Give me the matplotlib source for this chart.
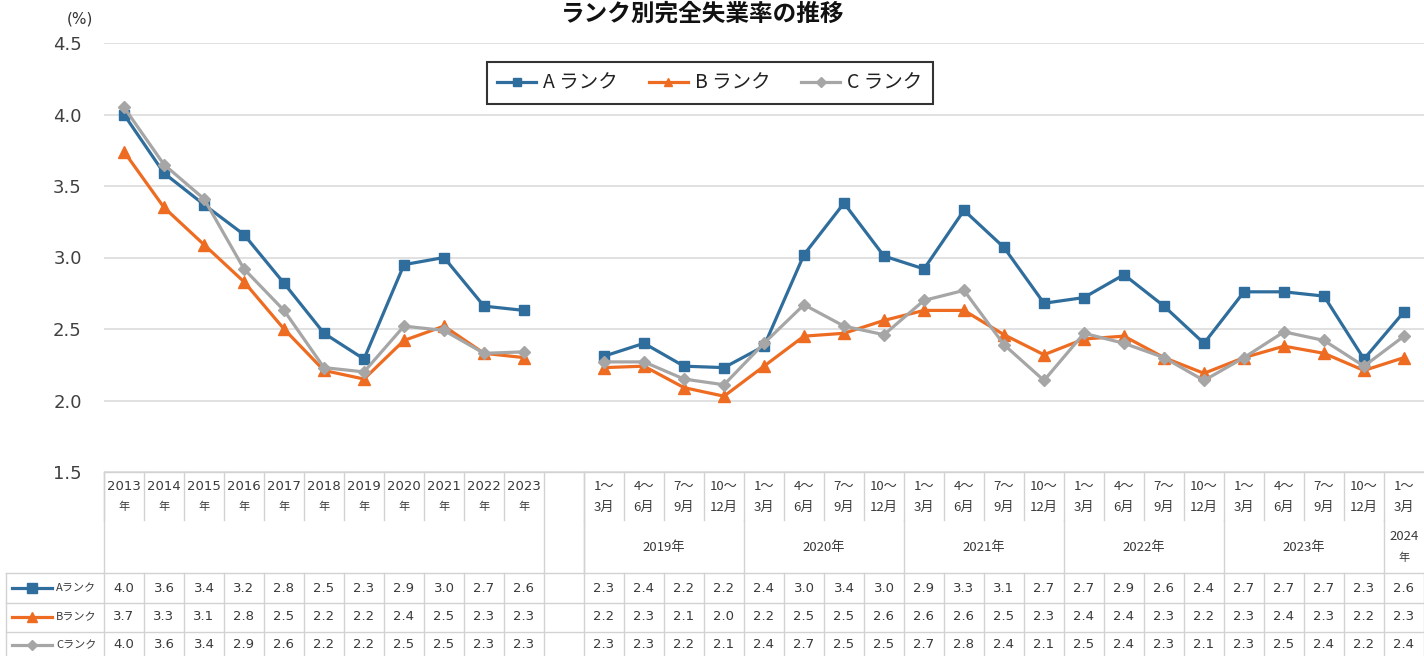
import matplotlib
matplotlib.use("Agg")
import matplotlib.pyplot as plt
import numpy as np

plt.rcParams["font.family"] = ["Noto Sans CJK JP", "DejaVu Sans"]

# --- data -------------------------------------------------------------
years = ["2013", "2014", "2015", "2016", "2017", "2018", "2019", "2020", "2021", "2022", "2023"]
quarters = ["1～\n3月", "4～\n6月", "7～\n9月", "10～\n12月"]
quarter_years = ["2019年", "2020年", "2021年", "2022年", "2023年"]
last_quarter_year = "2024\n年"
series_names = ["A ランク", "B ランク", "C ランク"]
table_names = ["Aランク", "Bランク", "Cランク"]

# plotted values (annual, then quarterly 2019Q1..2024Q1)
a_annual = [4.00, 3.59, 3.37, 3.16, 2.82, 2.47, 2.29, 2.95, 3.00, 2.66, 2.63]
b_annual = [3.74, 3.35, 3.09, 2.83, 2.50, 2.21, 2.15, 2.42, 2.52, 2.33, 2.30]
c_annual = [4.05, 3.65, 3.41, 2.92, 2.63, 2.23, 2.20, 2.52, 2.49, 2.33, 2.34]
a_quarter = [2.31, 2.40, 2.24, 2.23, 2.38, 3.02, 3.38, 3.01, 2.92, 3.33, 3.07,
             2.68, 2.72, 2.88, 2.66, 2.40, 2.76, 2.76, 2.73, 2.29, 2.62]
b_quarter = [2.23, 2.24, 2.09, 2.03, 2.24, 2.45, 2.47, 2.56, 2.63, 2.63, 2.46,
             2.32, 2.43, 2.45, 2.30, 2.19, 2.30, 2.38, 2.33, 2.21, 2.30]
c_quarter = [2.27, 2.27, 2.15, 2.11, 2.40, 2.67, 2.52, 2.46, 2.70, 2.77, 2.39,
             2.14, 2.47, 2.40, 2.30, 2.14, 2.30, 2.48, 2.42, 2.24, 2.45]

# values printed in the data table
a_table = ["4.0", "3.6", "3.4", "3.2", "2.8", "2.5", "2.3", "2.9", "3.0", "2.7", "2.6",
           "2.3", "2.4", "2.2", "2.2", "2.4", "3.0", "3.4", "3.0", "2.9", "3.3", "3.1",
           "2.7", "2.7", "2.9", "2.6", "2.4", "2.7", "2.7", "2.7", "2.3", "2.6"]
b_table = ["3.7", "3.3", "3.1", "2.8", "2.5", "2.2", "2.2", "2.4", "2.5", "2.3", "2.3",
           "2.2", "2.3", "2.1", "2.0", "2.2", "2.5", "2.5", "2.6", "2.6", "2.6", "2.5",
           "2.3", "2.4", "2.4", "2.3", "2.2", "2.3", "2.4", "2.3", "2.2", "2.3"]
c_table = ["4.0", "3.6", "3.4", "2.9", "2.6", "2.2", "2.2", "2.5", "2.5", "2.3", "2.3",
           "2.3", "2.3", "2.2", "2.1", "2.4", "2.7", "2.5", "2.5", "2.7", "2.8", "2.4",
           "2.1", "2.5", "2.4", "2.3", "2.1", "2.3", "2.5", "2.4", "2.2", "2.4"]

colors = ["#2f6e9c", "#ee6c22", "#a6a6a6"]
markers = ["s", "^", "D"]
msizes = [7.5, 8, 6]
grid_color = "#dcdcdc"
line_color = "#d2d2d2"
text_color = "#3a3a3a"

n_annual = len(years)
n_quarter = len(a_quarter)
x_annual = np.arange(n_annual)
x_quarter = np.arange(n_quarter) + n_annual + 1   # one empty column between blocks
n_cols = n_annual + 1 + n_quarter

W, H = 1424, 656
fig = plt.figure(figsize=(W / 100, H / 100), dpi=100)
fig.patch.set_facecolor("white")

# --- chart ------------------------------------------------------------
ax = fig.add_axes([104 / W, 1 - 472 / H, 1320 / W, 429 / H])
ax.set_xlim(-0.5, n_cols - 0.5)
ax.set_ylim(1.5, 4.5)

annual = [a_annual, b_annual, c_annual]
quarterly = [a_quarter, b_quarter, c_quarter]
handles = []
for i in range(3):
    kw = dict(color=colors[i], marker=markers[i], markersize=msizes[i],
              linewidth=2.3, zorder=3 + i, clip_on=False)
    h, = ax.plot(x_annual, annual[i], label=series_names[i], **kw)
    ax.plot(x_quarter, quarterly[i], **kw)
    handles.append(h)

ticks = np.arange(1.5, 4.51, 0.5)
ax.set_yticks(ticks)
ax.set_yticklabels([f"{v:.1f}" for v in ticks],
                   fontsize=13, color="#404040", family="DejaVu Sans")
ax.tick_params(axis="y", length=0, pad=16)
ax.set_xticks([])
ax.yaxis.grid(True, color=grid_color, linewidth=1.2, zorder=0)
ax.set_axisbelow(True)
for s in ax.spines.values():
    s.set_visible(False)

leg = ax.legend(handles=handles, loc="center", bbox_to_anchor=(0.459, 0.907),
                ncol=3, fontsize=14, frameon=True, fancybox=False,
                handlelength=2.0, columnspacing=1.6, borderpad=0.55,
                handletextpad=0.35, markerscale=0.8)
leg.get_frame().set_edgecolor("black")
leg.get_frame().set_linewidth(1.5)
for t in leg.get_texts():
    t.set_color("#222222")

fig.text(703 / W, 1 - 14 / H, "ランク別完全失業率の推移", ha="center", va="center",
         fontsize=17, fontweight="bold", color="#111111")
fig.text(80 / W, 1 - 19 / H, "(%)", ha="center", va="center", fontsize=11,
         color="#333333", family="DejaVu Sans")

# --- data table -------------------------------------------------------
tab = fig.add_axes([0, 0, 1, 184 / H])
left_units = 104 / 40
tab.set_xlim(-0.5 - left_units, -0.5 - left_units + W / 40)
tab.set_ylim(184, 0)
tab.axis("off")

sub_bottom, head_bottom = 48, 101
row_bottoms = [131, 160, 189]
row_centers = [116, 145, 173]
lk = dict(color=line_color, linewidth=1.0, clip_on=False)

# horizontal lines
tab.plot([-0.5, n_cols - 0.5], [0, 0], **lk)
for yb in [head_bottom] + row_bottoms[:-1]:
    tab.plot([-0.5 - left_units + 0.15, n_cols - 0.5], [yb, yb], **lk)
tab.plot([-0.5 - left_units + 0.15] * 2, [head_bottom, 184], **lk)

# vertical lines
for k in range(n_cols + 1):
    b = k - 0.5
    tab.plot([b, b], [head_bottom, 184], **lk)
tab.plot([-0.5, -0.5], [0, head_bottom], **lk)
tab.plot([n_annual - 0.5] * 2, [0, head_bottom], **lk)
tab.plot([n_annual + 0.5] * 2, [0, head_bottom], **lk)
for k in range(n_annual):
    tab.plot([k - 0.5, k - 0.5], [0, sub_bottom], **lk)
for k in range(n_quarter):
    b = x_quarter[k] - 0.5
    tab.plot([b, b], [0, sub_bottom], **lk)
    if k % 4 == 0:
        tab.plot([b, b], [sub_bottom, head_bottom], **lk)

fs = 9.5
for i, yr in enumerate(years):
    tab.text(x_annual[i], 15, yr, ha="center", va="center", fontsize=fs,
             color=text_color, family="DejaVu Sans")
    tab.text(x_annual[i], 35, "年", ha="center", va="center", fontsize=fs - 1.5,
             color=text_color)
for k in range(n_quarter):
    top, bot = quarters[k % 4].split("\n")
    tab.text(x_quarter[k], 15, top, ha="center", va="center", fontsize=fs,
             color=text_color)
    tab.text(x_quarter[k], 35, bot, ha="center", va="center", fontsize=fs,
             color=text_color)
for j, qy in enumerate(quarter_years):
    xc = x_quarter[4 * j:4 * j + 4].mean()
    tab.text(xc, 76, qy, ha="center", va="center", fontsize=fs, color=text_color)
ly1, ly2 = last_quarter_year.split("\n")
tab.text(x_quarter[-1], 64, ly1, ha="center", va="center", fontsize=fs, color=text_color)
tab.text(x_quarter[-1], 86, ly2, ha="center", va="center", fontsize=fs - 1.5, color=text_color)

x_all = np.concatenate([x_annual, x_quarter])
tables = [a_table, b_table, c_table]
for r in range(3):
    yc = row_centers[r]
    for xv, s in zip(x_all, tables[r]):
        tab.text(xv, yc, s, ha="center", va="center", fontsize=fs,
                 color=text_color, family="DejaVu Sans")
    # legend key in first column
    kx0 = -0.5 - left_units + 12 / 40
    kx1 = -0.5 - left_units + 52 / 40
    tab.plot([kx0, kx1], [yc, yc], color=colors[r], linewidth=2.3, clip_on=False)
    tab.plot([(kx0 + kx1) / 2], [yc], color=colors[r], marker=markers[r],
             markersize=msizes[r] - 1, clip_on=False)
    tab.text(-0.5 - left_units + 56 / 40, yc, table_names[r], ha="left",
             va="center", fontsize=fs - 1.5, color=text_color)

fig.savefig("out.png", dpi=100, facecolor="white")
